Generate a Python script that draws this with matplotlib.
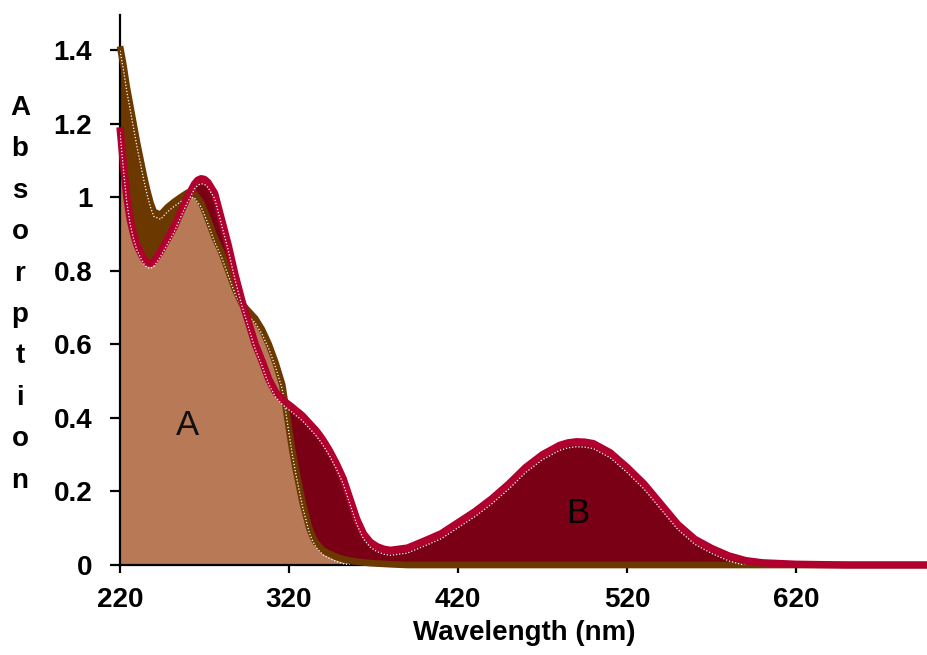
import matplotlib
matplotlib.use("Agg")
import matplotlib.pyplot as plt
import matplotlib.transforms as mtransforms
import numpy as np

# ---- data ----
wavelength = [220, 222, 224, 226, 228, 230, 232, 234, 236, 238, 240,
              244, 248, 252, 256, 260, 264, 266, 268, 270, 272, 276, 280, 284, 288,
              292, 296, 300, 304, 308, 312,
              314, 316, 318, 320, 322, 324, 326, 328, 330, 332, 334, 336, 338, 340,
              344, 348, 352, 356, 360, 364, 368, 372, 376, 380,
              390, 400, 410, 420, 430, 440, 450, 460, 470, 480, 485, 490, 495, 500, 510,
              520, 530, 540, 550, 560, 570, 580, 590, 600, 620, 650, 700]

abs_brown = [1.41, 1.36, 1.30, 1.25, 1.20, 1.15, 1.105, 1.06, 1.02, 0.985, 0.96,
             0.952, 0.972, 0.987, 1.00, 1.012, 1.01, 0.998, 0.985, 0.963, 0.94, 0.89, 0.85, 0.80, 0.75,
             0.71, 0.69, 0.67, 0.64, 0.60, 0.55,
             0.52, 0.49, 0.43, 0.37, 0.31, 0.26, 0.215, 0.17, 0.135, 0.10, 0.077, 0.06, 0.05, 0.04,
             0.03, 0.022, 0.016, 0.012, 0.009, 0.007, 0.005, 0.004, 0.003, 0.002,
             0.0, 0.0, 0.0, 0.0, 0.0, 0.0, 0.0, 0.0, 0.0, 0.0, 0.0, 0.0, 0.0, 0.0, 0.0,
             0.0, 0.0, 0.0, 0.0, 0.0, 0.0, 0.0, 0.0, 0.0, 0.0, 0.0, 0.0]

abs_red = [1.19, 1.09, 1.00, 0.94, 0.90, 0.87, 0.85, 0.833, 0.822, 0.82, 0.825,
           0.852, 0.885, 0.918, 0.96, 1.00, 1.035, 1.046, 1.05, 1.048, 1.04, 1.01, 0.94, 0.87, 0.79,
           0.72, 0.66, 0.60, 0.555, 0.505, 0.47,
           0.46, 0.45, 0.442, 0.435, 0.428, 0.42, 0.413, 0.405, 0.395, 0.385, 0.375, 0.365, 0.353, 0.34,
           0.31, 0.275, 0.235, 0.18, 0.125, 0.085, 0.062, 0.05, 0.043, 0.04,
           0.046, 0.065, 0.085, 0.115, 0.145, 0.18, 0.22, 0.265, 0.30, 0.325, 0.332, 0.335, 0.334, 0.33, 0.305,
           0.265, 0.22, 0.165, 0.11, 0.07, 0.045, 0.025, 0.012, 0.006, 0.002, 0.0, 0.0]

x_ticks = [220, 320, 420, 520, 620]
y_ticks = [0, 0.2, 0.4, 0.6, 0.8, 1.0, 1.2, 1.4]
y_tick_labels = ["0", "0.2", "0.4", "0.6", "0.8", "1", "1.2", "1.4"]
ylabel_text = "Absorption"
xlabel_text = "Wavelength (nm)"

# ---- colours ----
light_brown = "#B87A56"
dark_brown = "#6B3800"
dark_red = "#7A0016"
crimson = "#B0002E"

plt.rcParams['font.family'] = ['Liberation Sans', 'DejaVu Sans']

W, H = 928, 655
fig = plt.figure(figsize=(W / 100, H / 100), dpi=100)
ax = fig.add_axes([120 / W, 90 / H, (W - 120) / W, (565 - 15) / H])

x = np.array(wavelength)
yb = np.array(abs_brown)
yr = np.array(abs_red)

# fills
ax.fill_between(x, 0, yr, color=dark_red, lw=0, zorder=1)
ax.fill_between(x, 0, yb, color=light_brown, lw=0, zorder=1.1)
ax.fill_between(x, yr, yb, where=(x <= 268) & (yb >= yr), interpolate=True,
                color=dark_brown, lw=0, zorder=1.2)

# lines with inner white dotted edge
off = mtransforms.offset_copy(ax.transData, fig=fig, y=-4.5, units='dots')
ax.plot(x, yb, color=dark_brown, lw=4.8, solid_capstyle='butt',
        solid_joinstyle='round', clip_on=False, zorder=3)
ax.plot(x, yb, color='white', lw=0.9, ls=(0, (1, 1.5)), transform=off, zorder=3.1)
ax.plot(x, yr, color=crimson, lw=5.3, solid_capstyle='butt',
        solid_joinstyle='round', clip_on=False, zorder=4)
off2 = mtransforms.offset_copy(ax.transData, fig=fig, y=-5, units='dots')
ax.plot(x, yr, color='white', lw=0.9, ls=(0, (1, 1.5)), transform=off2, zorder=4.1)

ax.set_xlim(220, 698)
ax.set_ylim(0, 1.495)
ax.set_xticks(x_ticks)
ax.set_xticklabels([str(t) for t in x_ticks])
ax.set_yticks(y_ticks)
ax.set_yticklabels(y_tick_labels)

for s in ['top', 'right']:
    ax.spines[s].set_visible(False)
for s in ['left', 'bottom']:
    ax.spines[s].set_linewidth(1.6)
    ax.spines[s].set_color('black')

ax.tick_params(axis='y', direction='out', length=7, width=1.6, pad=13,
               labelsize=20)
ax.tick_params(axis='x', direction='out', length=6, width=1.6, pad=10,
               labelsize=20)
for lab in ax.get_xticklabels() + ax.get_yticklabels():
    lab.set_fontweight('bold')

ax.set_xlabel(xlabel_text, fontsize=20, fontweight='bold', labelpad=5)

# vertical stacked y-label letters
for i, ch in enumerate(ylabel_text):
    ybase = 115 + i * 41.4
    fig.text(20 / W, 1 - ybase / H, ch, ha='center', va='baseline',
             fontsize=20, fontweight='bold')

ax.text(260, 0.38, "A", fontsize=25, ha='center', va='center', color='#111111', zorder=5)
ax.text(491, 0.14, "B", fontsize=25, ha='center', va='center', color='black', zorder=5)

fig.savefig("out.png", dpi=100)
